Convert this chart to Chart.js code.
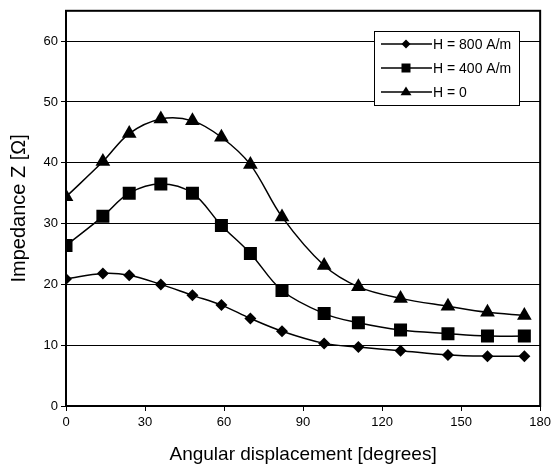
<!DOCTYPE html>
<html>
<head>
<meta charset="utf-8">
<script src="https://cdn.jsdelivr.net/npm/chart.js@4/dist/chart.umd.min.js"></script>
<style>
  html, body { margin: 0; padding: 0; background: #fff; }
  #wrap { width: 555px; height: 470px; }
</style>
</head>
<body>
<div id="wrap"><canvas id="c" width="555" height="470"></canvas></div>
<script>
const angles = [0, 14, 24, 36, 48, 59, 70, 82, 98, 111, 127, 145, 160, 174];
const h800 = [20.9, 21.8, 21.5, 20.0, 18.2, 16.6, 14.4, 12.3, 10.3, 9.7, 9.1, 8.4, 8.2, 8.2];
const h400 = [26.4, 31.2, 35.0, 36.5, 35.0, 29.7, 25.1, 19.0, 15.2, 13.7, 12.5, 11.9, 11.5, 11.5];
const h0 = [34.4, 40.2, 44.8, 47.2, 46.9, 44.2, 39.7, 31.1, 23.1, 19.6, 17.7, 16.4, 15.4, 14.9];
const seriesLabels = ['H = 800 A/m', 'H = 400 A/m', 'H = 0'];
const xTitle = 'Angular displacement [degrees]';
const yTitle = 'Impedance Z [\u03A9]';

const FONT = "'Liberation Sans', Arial, sans-serif";

function pts(ys) { return angles.map((a, i) => ({ x: a, y: ys[i] })); }

const styles = [
  { pointStyle: 'rectRot', radius: 6 },
  { pointStyle: 'rect', radius: 9.2 },
  { pointStyle: 'triangle', radius: 8.5 }
];
const allData = [h800, h400, h0];

const datasets = allData.map((d, i) => ({
  label: seriesLabels[i],
  data: pts(d),
  borderColor: '#000',
  backgroundColor: '#000',
  borderWidth: 1.5,
  pointStyle: styles[i].pointStyle,
  pointRadius: styles[i].radius,
  pointBorderWidth: 0,
  pointBackgroundColor: '#000',
  tension: 0.35,
  fill: false
}));

function drawMarker(ctx, style, x, y, r) {
  ctx.beginPath();
  if (style === 'rectRot') {
    ctx.moveTo(x - r, y); ctx.lineTo(x, y - r); ctx.lineTo(x + r, y); ctx.lineTo(x, y + r);
  } else if (style === 'rect') {
    ctx.rect(x - r, y - r, 2 * r, 2 * r);
  } else {
    const w = r * 1.0;
    ctx.moveTo(x, y - r); ctx.lineTo(x + w, y + r * 0.6); ctx.lineTo(x - w, y + r * 0.6);
  }
  ctx.closePath();
  ctx.fill();
}

const framePlugin = {
  id: 'frame',
  afterDatasetsDraw(chart) {
    const { ctx, chartArea: a } = chart;
    ctx.save();
    ctx.strokeStyle = '#000';
    ctx.lineWidth = 2;
    ctx.strokeRect(a.left, a.top, a.right - a.left, a.bottom - a.top);
    ctx.restore();
  },
  afterDraw(chart) {
    const ctx = chart.ctx;
    ctx.save();
    const bx = 374, by = 31, bw = 145, bh = 74;
    ctx.fillStyle = '#fff';
    ctx.fillRect(bx, by, bw, bh);
    ctx.strokeStyle = '#000';
    ctx.lineWidth = 1;
    ctx.strokeRect(bx + 0.5, by + 0.5, bw, bh);
    const legendStyles = [['rectRot', 4.5], ['rect', 4.5], ['triangle', 5.5]];
    ctx.font = '14px ' + FONT;
    ctx.textBaseline = 'middle';
    ctx.textAlign = 'left';
    seriesLabels.forEach((lab, i) => {
      const y = by + 13 + i * 24;
      ctx.strokeStyle = '#000';
      ctx.lineWidth = 1.5;
      ctx.beginPath();
      ctx.moveTo(381, y); ctx.lineTo(432, y);
      ctx.stroke();
      ctx.fillStyle = '#000';
      drawMarker(ctx, legendStyles[i][0], 406, y, legendStyles[i][1]);
      ctx.fillText(lab, 433, y + 1);
    });
    ctx.restore();
  }
};

new Chart(document.getElementById('c'), {
  type: 'line',
  data: { datasets },
  options: {
    responsive: false,
    animation: false,
    devicePixelRatio: 1,
    layout: { padding: { left: 0, top: 8, right: 13, bottom: 0 } },
    plugins: { legend: { display: false }, tooltip: { enabled: false } },
    scales: {
      x: {
        type: 'linear',
        min: 0, max: 180,
        afterFit(s) { s.height = 64; },
        ticks: { stepSize: 30, color: '#000', font: { family: FONT, size: 13 }, padding: 4, maxRotation: 0 },
        grid: { drawOnChartArea: false, drawTicks: true, tickLength: 5, color: '#000', lineWidth: 1 },
        border: { display: true, color: '#000', width: 2 },
        title: { display: true, text: xTitle, color: '#000', font: { family: FONT, size: 19 }, padding: { top: 0, bottom: 4 } }
      },
      y: {
        type: 'linear',
        min: 0, max: 65,
        afterFit(s) { s.width = 66; },
        ticks: { stepSize: 10, includeBounds: false, color: '#000', font: { family: FONT, size: 13 }, padding: 3 },
        grid: { drawOnChartArea: true, drawTicks: true, tickLength: 5, color: '#000', lineWidth: 1 },
        border: { display: true, color: '#000', width: 2 },
        title: { display: true, text: yTitle, color: '#000', font: { family: FONT, size: 20 }, padding: { top: 7, bottom: 0 } }
      }
    }
  },
  plugins: [framePlugin]
});
</script>
</body>
</html>
